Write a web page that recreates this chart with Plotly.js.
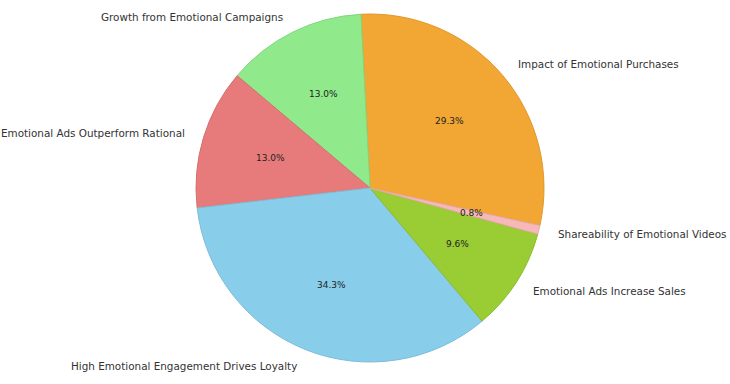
<!DOCTYPE html>
<html>
<head>
<meta charset="utf-8">
<script src="https://cdn.plot.ly/plotly-3.0.1.min.js"></script>
<style>html,body{margin:0;padding:0;background:#fff;}#chart{width:730px;height:384px;}</style>
</head>
<body>
<div id="chart"></div>
<script>
const labels = [
  "Impact of Emotional Purchases",
  "Growth from Emotional Campaigns",
  "Emotional Ads Outperform Rational",
  "High Emotional Engagement Drives Loyalty",
  "Emotional Ads Increase Sales",
  "Shareability of Emotional Videos"
];
const values = [29.3, 13.0, 13.0, 34.3, 9.6, 0.8];
const colors = ["#f2a633", "#90ea8c", "#e77b7b", "#88ceeb", "#9acc33", "#f6b8b8"];
const edgeColors = ["#e2982a", "#82d67e", "#d47070", "#7dbdd8", "#8dbb2e", "#e6a8a8"];

const W = 730, H = 384;
const dom = {x: [0.2685, 0.7452], y: [0.0573, 0.9635]};
const rotation = -3;

const pie = {
  type: "pie",
  labels: labels,
  values: values,
  sort: false,
  direction: "counterclockwise",
  rotation: rotation,
  domain: dom,
  marker: {colors: colors, line: {color: edgeColors, width: 1}},
  textinfo: "none",
  hoverinfo: "label+percent",
  showlegend: false
};

// label / percentage placement (matplotlib style: labels at 1.1 R, percentages at 0.6 R)
const total = values.reduce((a, b) => a + b, 0);
const R = Math.min((dom.x[1] - dom.x[0]) * W, (dom.y[1] - dom.y[0]) * H) / 2;
const cx = (dom.x[0] + dom.x[1]) / 2, cy = (dom.y[0] + dom.y[1]) / 2;
const startDeg = 90 - rotation - 360 * values[0] / total;
const annotations = [];
let cum = 0;
values.forEach((v, i) => {
  const mid = (startDeg + 360 * (cum + v / 2) / total) * Math.PI / 180;
  cum += v;
  const c = Math.cos(mid), s = Math.sin(mid);
  annotations.push({
    xref: "paper", yref: "paper",
    x: cx + 1.1 * R * c / W, y: cy + 1.1 * R * s / H,
    xanchor: c >= 0 ? "left" : "right", yanchor: "middle",
    text: labels[i], showarrow: false,
    font: {family: "DejaVu Sans", size: 10.4, color: "#333"}
  });
  annotations.push({
    xref: "paper", yref: "paper",
    x: cx + 0.6 * R * c / W, y: cy + 0.6 * R * s / H,
    xanchor: "center", yanchor: "middle",
    text: (100 * v / total).toFixed(1) + "%", showarrow: false,
    font: {family: "DejaVu Sans", size: 9, color: "#222"}
  });
});

const layout = {
  width: W, height: H,
  margin: {l: 0, r: 0, t: 0, b: 0},
  paper_bgcolor: "#fff",
  showlegend: false,
  annotations: annotations
};
Plotly.newPlot("chart", [pie], layout, {displayModeBar: false, staticPlot: true});
</script>
</body>
</html>
